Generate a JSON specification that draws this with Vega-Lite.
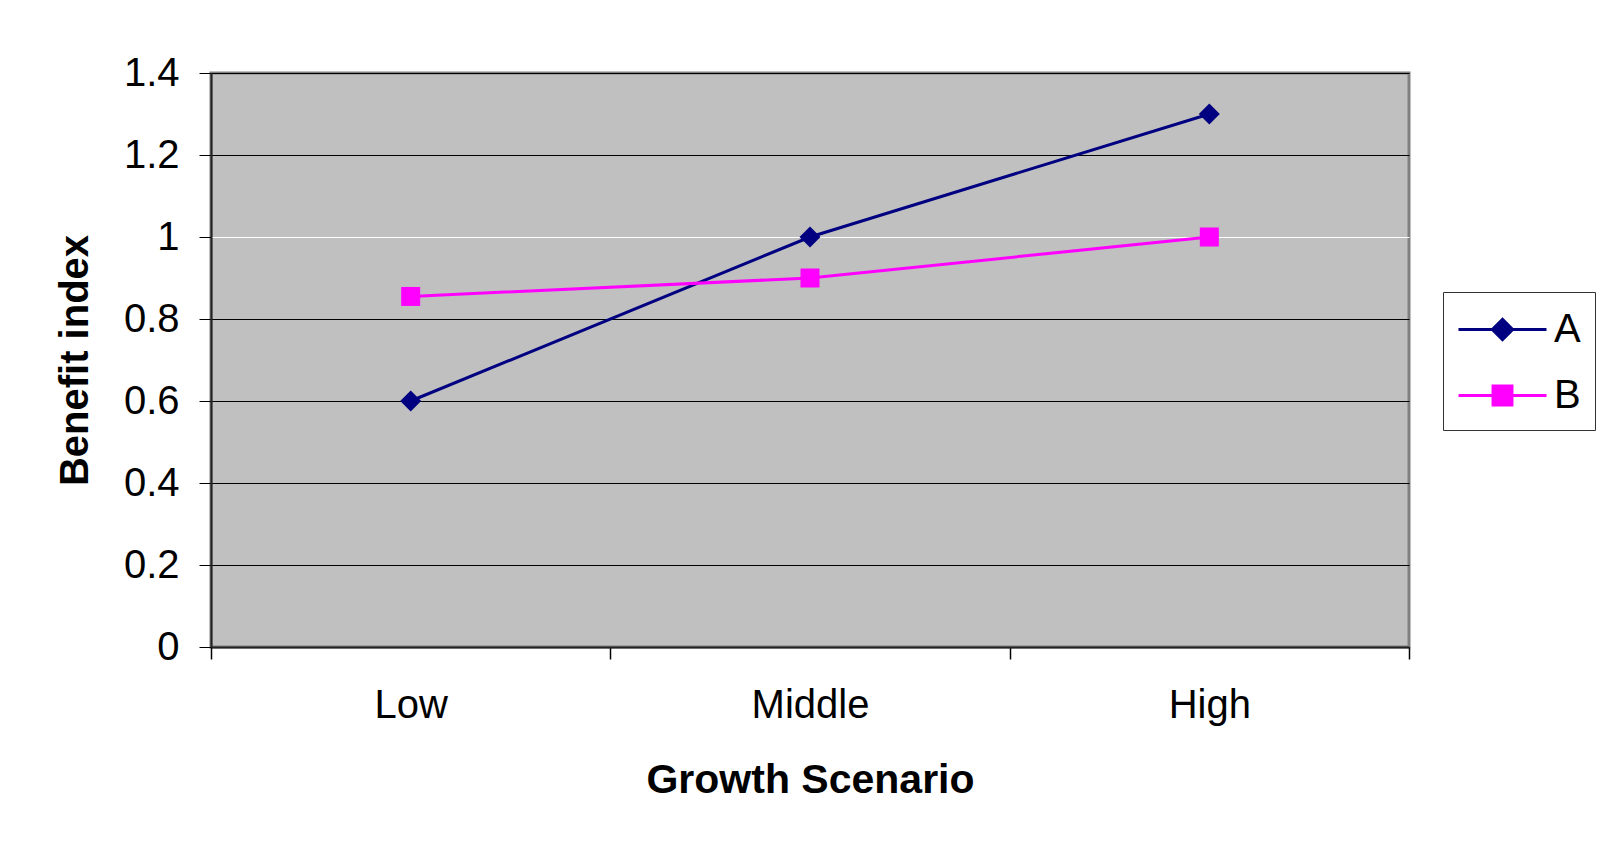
{
  "$schema": "https://vega.github.io/schema/vega-lite/v6.json",
  "width": 1198,
  "height": 574,
  "autosize": {"type": "none"},
  "padding": {"left": 211, "top": 73, "right": 201, "bottom": 201},
  "background": "white",
  "config": {
    "font": "Liberation Sans",
    "view": {"fill": "#c0c0c0", "stroke": "#808080", "strokeWidth": 3}
  },
  "data": {
    "values": [
      {"scenario": "Low", "series": "A", "value": 0.6},
      {"scenario": "Middle", "series": "A", "value": 1.0},
      {"scenario": "High", "series": "A", "value": 1.3},
      {"scenario": "Low", "series": "B", "value": 0.855},
      {"scenario": "Middle", "series": "B", "value": 0.9},
      {"scenario": "High", "series": "B", "value": 1.0}
    ]
  },
  "encoding": {
    "x": {
      "field": "scenario",
      "type": "nominal",
      "sort": ["Low", "Middle", "High"],
      "scale": {"type": "band", "paddingInner": 0, "paddingOuter": 0},
      "axis": {
        "title": "Growth Scenario",
        "labelAngle": 0,
        "labelFontSize": 40,
        "labelColor": "black",
        "labelPadding": 26,
        "tickBand": "extent",
        "tickSize": 12,
        "tickColor": "black",
        "tickWidth": 1.5,
        "domainColor": "#222222",
        "domainWidth": 2,
        "grid": false,
        "titleFontSize": 41,
        "titleFontWeight": "bold",
        "titleColor": "black",
        "titlePadding": 35
      }
    },
    "y": {
      "field": "value",
      "type": "quantitative",
      "scale": {"domain": [0, 1.4], "nice": false, "zero": true},
      "axis": {
        "title": "Benefit index",
        "values": [0, 0.2, 0.4, 0.6, 0.8, 1, 1.2, 1.4],
        "format": "~g",
        "labelFontSize": 40,
        "labelColor": "black",
        "labelPadding": 20,
        "tickSize": 12,
        "tickColor": "black",
        "domainColor": "#222222",
        "domainWidth": 2,
        "grid": true,
        "gridColor": {"condition": {"test": "datum.value === 1", "value": "white"}, "value": "black"},
        "gridOpacity": 1,
        "gridWidth": 1.2,
        "titleFontSize": 40,
        "titleFontWeight": "bold",
        "titleColor": "black",
        "titlePadding": 28
      }
    },
    "color": {
      "field": "series",
      "type": "nominal",
      "scale": {"domain": ["A", "B"], "range": ["#000080", "#ff00ff"]},
      "legend": {
        "title": null,
        "orient": "none",
        "legendX": 1232,
        "legendY": 219,
        "labelFontSize": 40,
        "labelColor": "black",
        "labelOffset": 50,
        "symbolSize": 1936,
        "symbolStrokeWidth": 3,
        "rowPadding": 22,
        "padding": 14,
        "strokeColor": "#333333",
        "fillColor": "white",
        "encode": {
          "symbols": {
            "update": {
              "shape": {"signal": "datum.value === 'A' ? 'M-1,0H3M1,-0.46L1.46,0L1,0.46L0.54,0Z' : 'M-1,0H3M0.57,-0.43H1.43V0.43H0.57Z'"},
              "size": {"value": 1936},
              "fill": {"signal": "datum.value === 'A' ? '#000080' : '#ff00ff'"},
              "stroke": {"signal": "datum.value === 'A' ? '#000080' : '#ff00ff'"},
              "strokeWidth": {"value": 3},
              "opacity": {"value": 1}
            }
          }
        }
      }
    }
  },
  "layer": [
    {
      "mark": {"type": "line", "strokeWidth": 3}
    },
    {
      "transform": [{"filter": "datum.series === 'A'"}],
      "mark": {"type": "point", "filled": true, "opacity": 1, "shape": "diamond", "size": 441}
    },
    {
      "transform": [{"filter": "datum.series === 'B'"}],
      "mark": {"type": "point", "filled": true, "opacity": 1, "shape": "square", "size": 361}
    }
  ]
}
